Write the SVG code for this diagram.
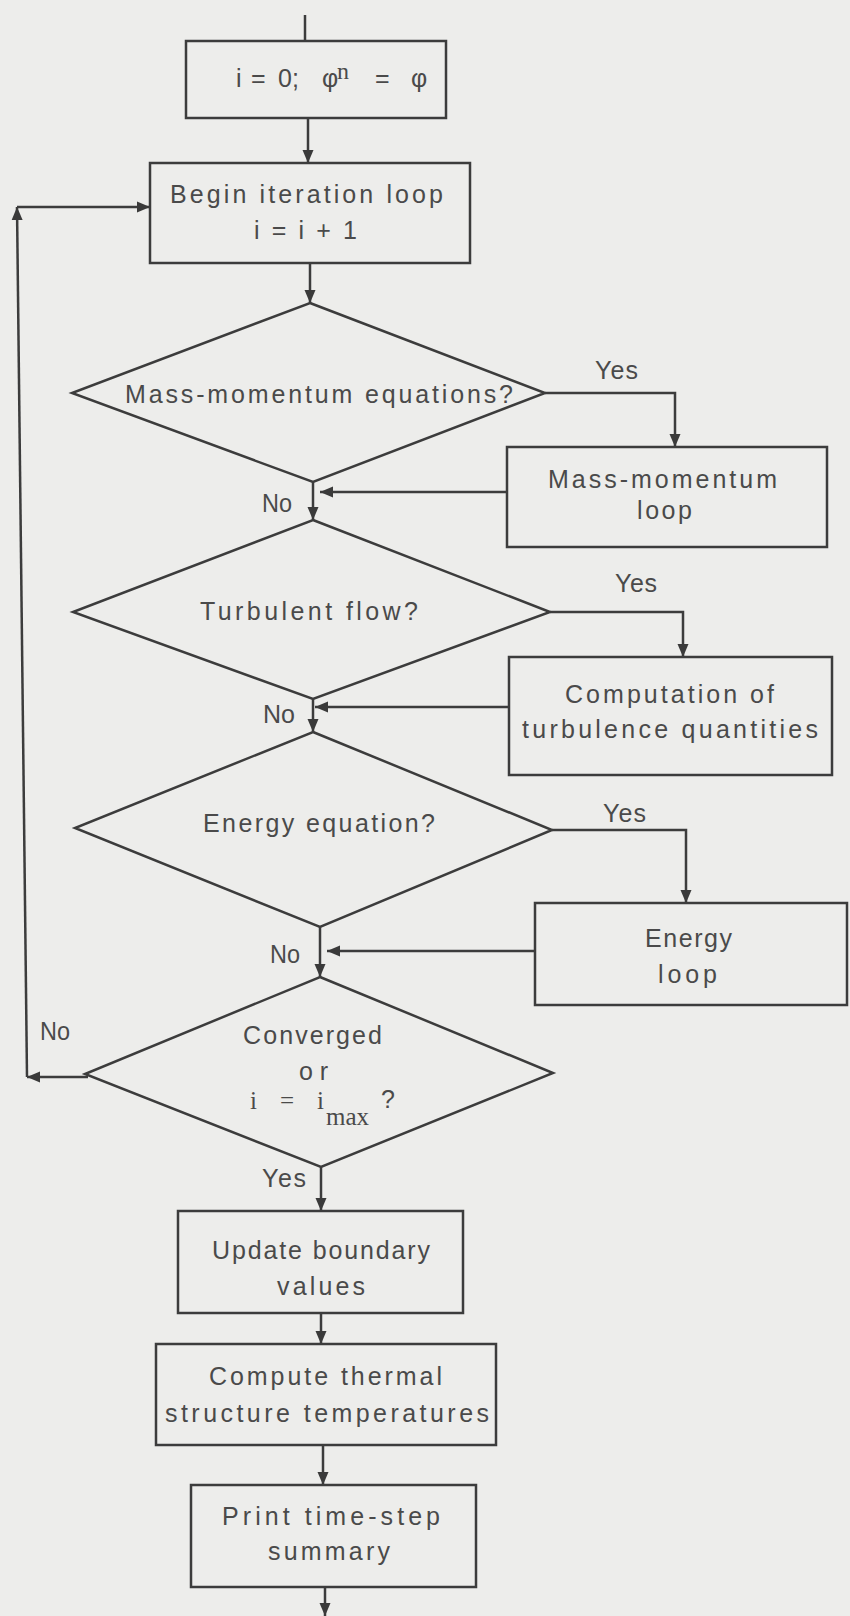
<svg xmlns="http://www.w3.org/2000/svg" width="850" height="1616" viewBox="0 0 850 1616">
<defs>
<marker id="ah" markerUnits="userSpaceOnUse" markerWidth="14" markerHeight="12" refX="13" refY="6" orient="auto">
<path d="M0,0.5 L13,6 L0,11.5 z" fill="#3a3a3a"/>
</marker>
<style>
.bg{fill:#ededeb}
.shape{fill:none;stroke:#3c3c3c;stroke-width:2.5}
.conn{fill:none;stroke:#3c3c3c;stroke-width:2.5;marker-end:url(#ah)}
.line{fill:none;stroke:#3c3c3c;stroke-width:2.5}
text{font-family:"Liberation Sans",Arial,sans-serif;font-size:25px;fill:#4a4a4a}
.serif{font-family:"Liberation Serif","Times New Roman",serif}
</style>
</defs>
<rect class="bg" x="0" y="0" width="850" height="1616"/>

<g id="connectors">
<path class="line" d="M305,15 L305,41"/>
<path class="conn" d="M308,118 L308,163"/>
<path class="conn" d="M310,263 L310,303"/>
<path class="conn" d="M545,393 L675,393 L675,447"/>
<path class="conn" d="M507,492 L320,492"/>
<path class="conn" d="M313,482 L313,520"/>
<path class="conn" d="M550,612 L683,612 L683,657"/>
<path class="conn" d="M509,707 L315,707"/>
<path class="conn" d="M313,699 L313,732"/>
<path class="conn" d="M552,830 L686,830 L686,903"/>
<path class="conn" d="M535,951 L327,951"/>
<path class="conn" d="M320,927 L320,977"/>
<path class="conn" d="M88,1077 L27,1077"/>
<path class="conn" d="M27,1077 L17,207"/>
<path class="conn" d="M17,207 L150,207"/>
<path class="conn" d="M321,1167 L321,1211"/>
<path class="conn" d="M321,1313 L321,1344"/>
<path class="conn" d="M323,1445 L323,1485"/>
<path class="conn" d="M325,1587 L325,1616"/>
</g>

<g id="init">
<rect class="shape" x="186" y="41" width="260" height="77"/>
<text y="87"><tspan x="236">i</tspan><tspan x="251">=</tspan><tspan x="278">0;</tspan><tspan x="322">φ</tspan><tspan x="337" y="79" class="serif" font-size="24">n</tspan><tspan x="375" y="87">=</tspan><tspan x="411">φ</tspan></text>
</g>

<g id="begin">
<rect class="shape" x="150" y="163" width="320" height="100"/>
<text x="170" y="203" textLength="273" lengthAdjust="spacing">Begin  iteration  loop</text>
<text x="254" y="239" textLength="103" lengthAdjust="spacing">i = i + 1</text>
</g>

<g id="d-mass">
<polygon class="shape" points="310,303 545,393 313,482 72,393"/>
<text x="125" y="403" textLength="388" lengthAdjust="spacing">Mass-momentum  equations?</text>
<text x="595" y="379" textLength="43" lengthAdjust="spacing">Yes</text>
<text x="262" y="512" font-size="24" textLength="30" lengthAdjust="spacingAndGlyphs">No</text>
</g>

<g id="mass-loop">
<rect class="shape" x="507" y="447" width="320" height="100"/>
<text x="548" y="488" textLength="229" lengthAdjust="spacing">Mass-momentum</text>
<text x="637" y="519" textLength="55" lengthAdjust="spacing">loop</text>
</g>

<g id="d-turb">
<polygon class="shape" points="313,520 550,612 313,699 73,612"/>
<text x="200" y="620" textLength="218" lengthAdjust="spacing">Turbulent  flow?</text>
<text x="615" y="592" textLength="42" lengthAdjust="spacing">Yes</text>
<text x="263" y="723" font-size="24" textLength="32" lengthAdjust="spacingAndGlyphs">No</text>
</g>

<g id="turb-box">
<rect class="shape" x="509" y="657" width="323" height="118"/>
<text x="565" y="703" textLength="209" lengthAdjust="spacing">Computation  of</text>
<text x="522" y="738" textLength="296" lengthAdjust="spacing">turbulence  quantities</text>
</g>

<g id="d-energy">
<polygon class="shape" points="313,732 552,830 320,927 75,828"/>
<text x="203" y="832" textLength="232" lengthAdjust="spacing">Energy  equation?</text>
<text x="603" y="822" textLength="43" lengthAdjust="spacing">Yes</text>
<text x="270" y="963" font-size="24" textLength="30" lengthAdjust="spacingAndGlyphs">No</text>
</g>

<g id="energy-loop">
<rect class="shape" x="535" y="903" width="312" height="102"/>
<text x="645" y="947" textLength="87" lengthAdjust="spacing">Energy</text>
<text x="658" y="983" textLength="59" lengthAdjust="spacing">loop</text>
</g>

<g id="d-conv">
<polygon class="shape" points="320,977 553,1073 321,1167 85,1074"/>
<text x="243" y="1044" textLength="139" lengthAdjust="spacing">Converged</text>
<text x="299" y="1080" textLength="29" lengthAdjust="spacing">or</text>
<text x="250" y="1109" class="serif" font-size="28" textLength="74" lengthAdjust="spacing">i = i</text>
<text x="326" y="1125" class="serif" font-size="29">max</text>
<text x="381" y="1108" font-size="24">?</text>
<text x="40" y="1040" font-size="24" textLength="30" lengthAdjust="spacingAndGlyphs">No</text>
<text x="262" y="1187" textLength="44" lengthAdjust="spacing">Yes</text>
</g>

<g id="update">
<rect class="shape" x="178" y="1211" width="285" height="102"/>
<text x="212" y="1259" textLength="218" lengthAdjust="spacing">Update boundary</text>
<text x="277" y="1295" textLength="88" lengthAdjust="spacing">values</text>
</g>

<g id="thermal">
<rect class="shape" x="156" y="1344" width="340" height="101"/>
<text x="209" y="1385" textLength="233" lengthAdjust="spacing">Compute  thermal</text>
<text x="165" y="1422" textLength="324" lengthAdjust="spacing">structure  temperatures</text>
</g>

<g id="print">
<rect class="shape" x="191" y="1485" width="285" height="102"/>
<text x="222" y="1525" textLength="218" lengthAdjust="spacing">Print  time-step</text>
<text x="268" y="1560" textLength="122" lengthAdjust="spacing">summary</text>
</g>
</svg>
